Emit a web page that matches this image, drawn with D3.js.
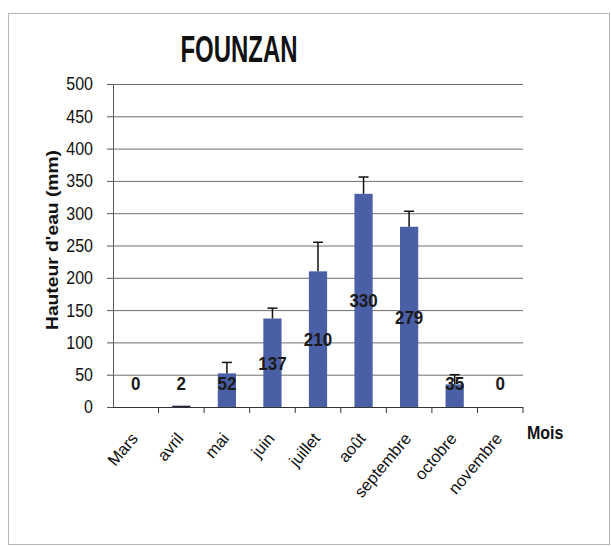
<!DOCTYPE html>
<html lang="fr">
<head>
<meta charset="utf-8" />
<title>FOUNZAN</title>
<style>
  body { margin: 0; background: #fff; }
</style>
</head>
<body>
<div id="chart"></div>
<script src="https://d3js.org/d3.v7.min.js"></script>
<script>
  const months = ["Mars", "avril", "mai", "juin", "juillet", "août", "septembre", "octobre", "novembre"];
  const rain = [0, 2, 52, 137, 210, 330, 279, 35, 0];
  const errTop = [0, 0, 69, 153, 255, 356, 303, 50, 0];
  const yTicks = [0, 50, 100, 150, 200, 250, 300, 350, 400, 450, 500];

  const width = 611, height = 547;
  const font = "'Liberation Sans', Arial, sans-serif";

  const svg = d3.select("#chart").append("svg")
    .attr("width", width)
    .attr("height", height);

  // cadre du graphique
  svg.append("rect")
    .attr("x", 8.5).attr("y", 13.5)
    .attr("width", 601).attr("height", 531)
    .attr("fill", "#fff")
    .attr("stroke", "#b5b5b5");

  const plotLeft = 113, plotRight = 523, plotTop = 84, plotBottom = 407;

  const x = d3.scaleBand()
    .domain(months)
    .range([plotLeft, plotRight])
    .paddingInner(0.6)
    .paddingOuter(0.3);

  const xTickScale = d3.scaleLinear().domain([0, months.length]).range([plotLeft, plotRight]);

  const y = d3.scaleLinear().domain([0, 500]).range([plotBottom, plotTop]);

  // grille + axe y
  const yAxis = svg.append("g")
    .attr("transform", `translate(${plotLeft},0)`)
    .call(d3.axisLeft(y).tickValues(yTicks).tickSize(6).tickPadding(14));
  yAxis.select(".domain").attr("stroke", "#555");
  yAxis.selectAll(".tick line").attr("stroke", "#555");
  yAxis.selectAll(".tick text")
    .attr("font-family", font)
    .attr("font-size", 16)
    .attr("transform", "scale(1,1.15)")
    .attr("fill", "#111");

  svg.append("g")
    .selectAll("line")
    .data(yTicks.filter(d => d > 0))
    .join("line")
    .attr("x1", plotLeft).attr("x2", plotRight)
    .attr("y1", d => y(d) + 0.5).attr("y2", d => y(d) + 0.5)
    .attr("stroke", "#6e6e6e")
    .attr("stroke-width", 1);

  // barres
  svg.append("g")
    .selectAll("rect")
    .data(rain)
    .join("rect")
    .attr("x", (d, i) => x(months[i]))
    .attr("y", d => y(d))
    .attr("width", x.bandwidth())
    .attr("height", d => plotBottom - y(d))
    .attr("fill", (d, i) => d < 5 ? "#1c2340" : "#4a5fa6");

  // barres d'erreur
  const err = svg.append("g")
    .selectAll("g")
    .data(errTop.map((e, i) => ({ e, v: rain[i], m: months[i] })).filter(d => d.e > d.v))
    .join("g")
    .attr("stroke", "#111")
    .attr("stroke-width", 1.5);
  err.append("line")
    .attr("x1", d => x(d.m) + x.bandwidth() / 2)
    .attr("x2", d => x(d.m) + x.bandwidth() / 2)
    .attr("y1", d => y(d.v))
    .attr("y2", d => y(d.e));
  err.append("line")
    .attr("x1", d => x(d.m) + x.bandwidth() / 2 - 5)
    .attr("x2", d => x(d.m) + x.bandwidth() / 2 + 5)
    .attr("y1", d => y(d.e))
    .attr("y2", d => y(d.e));

  // axe x
  svg.append("line")
    .attr("x1", plotLeft).attr("x2", plotRight)
    .attr("y1", plotBottom + 0.5).attr("y2", plotBottom + 0.5)
    .attr("stroke", "#333");
  svg.append("g")
    .selectAll("line")
    .data(d3.range(1, months.length + 1))
    .join("line")
    .attr("x1", d => xTickScale(d)).attr("x2", d => xTickScale(d))
    .attr("y1", plotBottom).attr("y2", plotBottom + 6)
    .attr("stroke", "#333");

  // étiquettes de données
  svg.append("g")
    .selectAll("text")
    .data(rain)
    .join("text")
    .attr("transform", (d, i) =>
      `translate(${x(months[i]) + x.bandwidth() / 2},${Math.min(y(d / 2), y(37)) + 7}) scale(1,1.1)`)
    .attr("text-anchor", "middle")
    .attr("font-family", font)
    .attr("font-weight", "bold")
    .attr("font-size", 17)
    .attr("fill", "#1a1a1a")
    .text(d => d);

  // libellés des mois
  svg.append("g")
    .selectAll("text")
    .data(months)
    .join("text")
    .attr("transform", d =>
      `translate(${x(d) + x.bandwidth() / 2 + 3},${plotBottom + 32}) rotate(-50)`)
    .attr("text-anchor", "end")
    .attr("font-family", font)
    .attr("font-size", 16.5)
    .attr("fill", "#111")
    .text(d => d);

  // titres
  svg.append("text")
    .attr("x", 239).attr("y", 62)
    .attr("text-anchor", "middle")
    .attr("font-family", font)
    .attr("font-weight", "bold")
    .attr("font-size", 36)
    .attr("textLength", 117)
    .attr("lengthAdjust", "spacingAndGlyphs")
    .attr("fill", "#111")
    .text("FOUNZAN");

  svg.append("text")
    .attr("transform", "translate(58,240) rotate(-90)")
    .attr("text-anchor", "middle")
    .attr("font-family", font)
    .attr("font-weight", "bold")
    .attr("font-size", 17)
    .attr("textLength", 180)
    .attr("lengthAdjust", "spacingAndGlyphs")
    .attr("fill", "#111")
    .text("Hauteur d'eau (mm)");

  svg.append("text")
    .attr("transform", "translate(527,439) scale(1,1.15)")
    .attr("font-family", font)
    .attr("font-weight", "bold")
    .attr("font-size", 16)
    .attr("fill", "#111")
    .text("Mois");
</script>
</body>
</html>
